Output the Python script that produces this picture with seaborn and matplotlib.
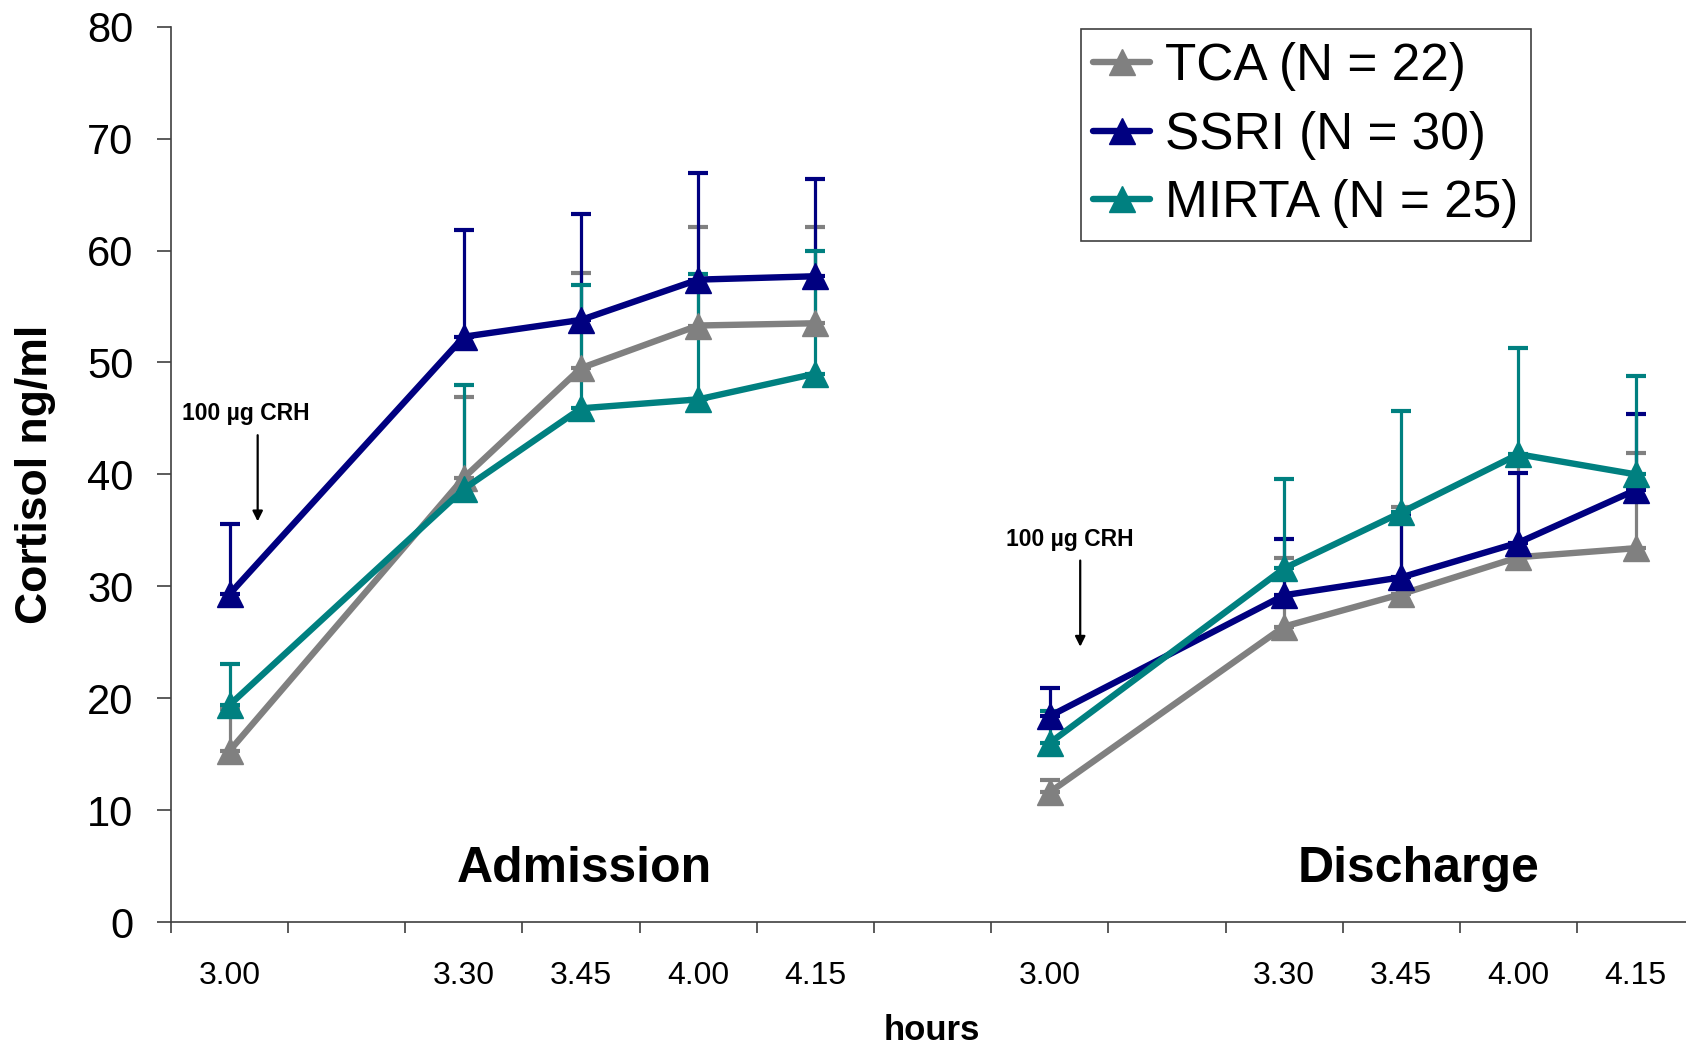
import numpy as np
import pandas as pd
import matplotlib
matplotlib.use("Agg")
import matplotlib.pyplot as plt
from matplotlib.lines import Line2D
import seaborn as sns

# ---------------- data ----------------
x_categories = ["3.00", "", "3.30", "3.45", "4.00", "4.15", "",
                "3.00", "", "3.30", "3.45", "4.00", "4.15"]
phases = ["Admission", "Discharge"]
times = ["3.00", "3.30", "3.45", "4.00", "4.15"]
groups = ["TCA (N = 22)", "SSRI (N = 30)", "MIRTA (N = 25)"]
colors = ["#808080", "#000080", "#008080"]

tca_adm = [15.3, 39.7, 49.5, 53.3, 53.5]
ssri_adm = [29.3, 52.3, 53.8, 57.4, 57.7]
mirta_adm = [19.4, 38.7, 45.9, 46.7, 49.0]
tca_dis = [11.6, 26.4, 29.3, 32.6, 33.4]
ssri_dis = [18.4, 29.2, 30.8, 33.9, 38.6]
mirta_dis = [16.0, 31.6, 36.6, 41.8, 40.0]

tca_adm_err = [3.7, 7.2, 8.5, 8.8, 8.6]
ssri_adm_err = [6.3, 9.5, 9.5, 9.5, 8.7]
mirta_adm_err = [3.7, 9.3, 11.0, 11.2, 11.0]
tca_dis_err = [1.1, 6.1, 7.8, 8.7, 8.5]
ssri_dis_err = [2.5, 5.0, 5.7, 6.2, 6.8]
mirta_dis_err = [2.9, 8.0, 9.1, 9.5, 8.8]

y_ticks = [0, 10, 20, 30, 40, 50, 60, 70, 80]

# ---------------- build table ----------------
slots = [i for i, c in enumerate(x_categories) if c]
phase_slots = {"Admission": slots[:5], "Discharge": slots[5:]}

values = {
    ("TCA (N = 22)", "Admission"): (tca_adm, tca_adm_err),
    ("SSRI (N = 30)", "Admission"): (ssri_adm, ssri_adm_err),
    ("MIRTA (N = 25)", "Admission"): (mirta_adm, mirta_adm_err),
    ("TCA (N = 22)", "Discharge"): (tca_dis, tca_dis_err),
    ("SSRI (N = 30)", "Discharge"): (ssri_dis, ssri_dis_err),
    ("MIRTA (N = 25)", "Discharge"): (mirta_dis, mirta_dis_err),
}
rows = []
for (g, ph), (vals, errs) in values.items():
    for t, s, v, e in zip(times, phase_slots[ph], vals, errs):
        rows.append(dict(group=g, phase=ph, time=t, pos=s, value=v, err=e))
df = pd.DataFrame(rows)

# ---------------- plot ----------------
sns.set_style("white")
plt.rcParams["font.family"] = ["Liberation Sans", "DejaVu Sans"]
plt.rcParams["text.color"] = "black"
plt.rcParams["xtick.color"] = "black"
plt.rcParams["ytick.color"] = "black"
plt.rcParams["axes.labelcolor"] = "black"

fig = plt.figure(figsize=(16.86, 10.46), dpi=100)
ax = fig.add_axes([0.1014, 0.1185, 0.8986, 0.856])

for g, col in zip(groups, colors):
    for ph in phases:
        sub = df[(df.group == g) & (df.phase == ph)]
        ax.errorbar(sub.pos, sub.value,
                    yerr=[np.zeros(len(sub)), sub.err.values],
                    fmt="none", ecolor=col, elinewidth=2.3,
                    capsize=7, capthick=3, zorder=2)
for g, col in zip(groups, colors):
    for ph in phases:
        sub = df[(df.group == g) & (df.phase == ph)]
        sns.lineplot(data=sub, x="pos", y="value", ax=ax, color=col,
                     marker="^", markersize=18.5, markeredgecolor=col,
                     markeredgewidth=1, linewidth=4.6, estimator=None,
                     sort=False, legend=False, zorder=3)

ax.set_xlim(-0.5, 12.43)
ax.set_ylim(0, 80)
ax.set_yticks(y_ticks)
ax.set_yticklabels([str(v) for v in y_ticks], fontsize=30, color="black")

ax.set_xticks(np.arange(-0.5, 12.5, 1.0))
ax.set_xticklabels([])
ax.set_xticks(slots, minor=True)
ax.set_xticklabels([x_categories[i] for i in slots], minor=True,
                   fontsize=23, color="black")
ax.tick_params(axis="x", which="major", direction="out", length=8,
               width=1.2, color="#404040", bottom=True)
ax.tick_params(axis="x", which="minor", length=0, pad=28, bottom=True)
ax.tick_params(axis="y", direction="out", length=10, width=1.2,
               color="#404040", pad=17, left=True)

for s in ["top", "right"]:
    ax.spines[s].set_visible(False)
for s in ["left", "bottom"]:
    ax.spines[s].set_color("#404040")
    ax.spines[s].set_linewidth(1.2)

ax.set_ylabel("Cortisol ng/ml", fontsize=32, fontweight="bold",
              color="black", va="center")
ax.yaxis.set_label_coords(-0.0895, 0.5)
ax.set_xlabel("hours", fontsize=25, fontweight="bold", color="black")
ax.xaxis.set_label_coords(0.502, -0.103)

# phase labels
ax.text(3.03, 4.7, "Admission", fontsize=36, fontweight="bold",
        ha="center", va="center")
ax.text(10.15, 4.7, "Discharge", fontsize=36, fontweight="bold",
        ha="center", va="center")

# CRH annotations
for tx, ty, axx, y0, y1 in [(0.14, 45.4, 0.24, 43.5, 35.8),
                             (7.17, 34.2, 7.26, 32.3, 24.6)]:
    ax.text(tx, ty, "100 µg CRH", fontsize=16.5, fontweight="bold",
            ha="center", va="center")
    ax.annotate("", xy=(axx, y1), xytext=(axx, y0),
                arrowprops=dict(arrowstyle="-|>", color="black", lw=1.6,
                                mutation_scale=15, shrinkA=0, shrinkB=0))

handles = [Line2D([], [], color=c, marker="^", markersize=18.5, lw=4.6,
                  markeredgecolor=c) for c in colors]
leg = ax.legend(handles, groups, loc="upper right",
                bbox_to_anchor=(0.898, 0.997), fontsize=37, frameon=True,
                fancybox=False, edgecolor="#404040", framealpha=1,
                handlelength=1.1, handletextpad=0.3, labelspacing=0.38,
                borderpad=0.25, borderaxespad=0)
leg.get_frame().set_linewidth(1.2)

fig.savefig("out.png", dpi=100)
